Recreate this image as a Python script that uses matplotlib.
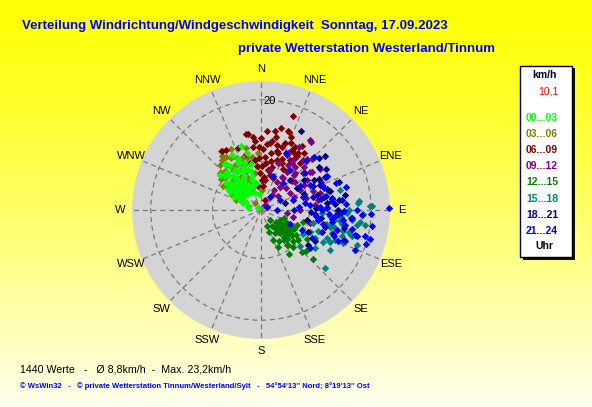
import numpy as np
import matplotlib
matplotlib.use("Agg")
import matplotlib.pyplot as plt
from matplotlib.patches import Rectangle

W, H = 592, 407
R_MAX = 23.4

# direction labels (clockwise from N)
DIR_LABELS = ["N", "NNE", "NE", "ENE", "E", "ESE", "SE", "SSE",
              "S", "SSW", "SW", "WSW", "W", "WNW", "NW", "NNW"]

# hour groups: label, colour
GROUP_LABELS = ["00...03", "03...06", "06...09", "09...12",
                "12...15", "15...18", "18...21", "21...24"]
GROUP_COLORS = ["#00ff00", "#808000", "#800000", "#800080",
                "#008000", "#008080", "#000080", "#0000ff"]

# wind direction (deg) / speed (km/h)
DIR_00 = [343, 332, 346, 316, 311, 327, 334, 342, 343, 340, 285, 302, 323, 305, 296, 318,
          320, 330, 312, 300, 335, 325, 308, 338, 315, 328, 298, 348, 310, 322, 330, 318,
          345, 290, 303, 336, 350, 326, 314, 306, 332, 320, 340, 352, 295,
          315, 322, 310, 328, 318, 305, 333, 300, 325, 313, 338, 320, 308, 328, 345]
SPD_00 = [12.2, 11.3, 10.6, 8.5, 7.4, 8.7, 9.4, 7.6, 5.7, 3.2, 2.4, 0.6, 5.3, 5.8, 4.2, 9.3,
          7.0, 6.5, 6.2, 5.0, 7.8, 9.8, 8.0, 4.5, 4.8, 3.6, 3.0, 8.5, 9.8, 10.6, 8.1, 6.9,
          6.4, 3.5, 7.1, 10.2, 5.0, 4.5, 9.0, 6.6, 5.2, 8.0, 9.0, 3.0, 5.5,
          6.0, 7.5, 7.0, 8.5, 4.0, 4.0, 6.8, 6.5, 6.2, 5.3, 8.3, 5.8, 5.0, 5.6, 7.3]

DIR_03 = [326, 324, 334, 323, 317, 312, 302, 306, 317, 305, 316, 292, 313, 337, 338, 351,
          345, 350, 357, 339, 332, 356, 318, 2, 320, 310, 328, 335, 315, 325, 300, 340,
          330, 346, 308, 322, 318, 330, 312, 320, 327, 335, 340, 303, 297, 325, 342]
SPD_03 = [12.9, 12.1, 12.3, 10.3, 9.6, 10.0, 8.1, 7.3, 7.4, 5.8, 5.9, 4.8, 4.0, 4.3, 6.2, 6.8,
          9.7, 9.8, 10.3, 8.8, 8.2, 7.9, 1.6, 3.6, 6.5, 6.8, 7.0, 5.5, 8.6, 9.0, 4.4, 7.5,
          10.8, 11.5, 9.2, 11.5, 11.0, 9.5, 8.8, 8.0, 11.5, 10.5, 10.0, 6.5, 6.0, 5.0, 5.5]

DIR_06 = [19, 14, 4, 354, 349, 19, 22, 20, 9, 14, 18, 27, 33, 33, 37, 330, 326, 350, 358,
          353, 8, 17, 4, 1, 10, 8, 21, 24, 353, 22, 60, 347, 353, 358, 6, 20, 24, 33, 34,
          40, 30, 12, 2, 15, 5, 355, 28, 10, 345, 0,
          5, 12, 25, 15, 358, 6, 18, 28, 355, 10, 340, 2, 15, 30, 22]
SPD_06 = [18.1, 15.3, 14.4, 13.4, 14.1, 15.1, 14.3, 12.9, 12.6, 12.2, 12.1, 12.3, 12.3, 11.3,
          12.9, 12.6, 12.8, 14.0, 11.5, 11.6, 12.2, 10.8, 9.7, 7.9, 7.4, 5.5, 6.2, 9.3, 4.3,
          2.0, 1.2, 8.7, 9.2, 6.7, 4.3, 15.0, 13.3, 13.8, 11.8, 11.1, 10.5, 9.0, 11.0, 8.0,
          6.0, 8.0, 8.5, 10.5, 10.5, 13.0,
          12.0, 13.5, 11.0, 11.0, 9.5, 8.5, 9.5, 13.0, 12.5, 14.5, 12.0, 5.5, 6.5, 12.0, 10.0]

DIR_09 = [36, 31, 40, 33, 31, 34, 43, 32, 29, 32, 52, 47, 52, 63, 13, 36, 39, 35, 53, 49,
          43, 33, 57, 68, 85, 90, 102, 97, 105, 74, 45, 25, 60, 40, 20, 75, 55,
          45, 38, 50, 60, 70, 42, 48, 35, 80, 65]
SPD_09 = [15.3, 13.4, 11.9, 10.8, 9.6, 8.4, 8.7, 7.1, 5.9, 4.3, 4.0, 7.6, 11.3, 8.0, 7.5, 3.4,
          1.2, 15.4, 11.5, 10.2, 9.1, 10.2, 9.9, 6.4, 9.9, 7.1, 6.0, 4.7, 9.2, 11.1, 13.0,
          11.5, 6.0, 5.5, 9.0, 8.5, 13.0,
          11.0, 10.0, 8.0, 9.0, 10.0, 12.5, 6.0, 7.0, 10.5, 12.0]

DIR_12 = [124, 161, 143, 158, 143, 142, 139, 136, 133, 129, 118, 113, 106, 128, 138, 122,
          129, 144, 149, 130, 135, 125, 140, 120, 150, 115, 132, 127, 145, 155, 134, 138,
          126, 118, 110, 148, 132, 160,
          128, 133, 124, 137, 130, 125, 140, 120, 135, 142, 131, 127]
SPD_12 = [4.9, 4.2, 4.2, 5.9, 6.8, 8.1, 8.9, 10.6, 12.9, 7.2, 3.9, 7.0, 8.0, 5.9, 2.4, 9.8,
          8.7, 7.9, 4.9, 5.0, 6.0, 6.5, 5.5, 5.5, 6.5, 5.0, 4.0, 3.5, 3.5, 7.5, 8.0, 7.0,
          7.8, 6.2, 4.5, 9.5, 11.0, 3.0,
          6.0, 5.5, 5.8, 6.4, 7.0, 4.5, 6.5, 7.0, 4.8, 5.0, 6.6, 5.3]

DIR_15 = [74, 76, 85, 88, 92, 92, 98, 98, 104, 104, 108, 112, 115, 113, 114, 119, 133, 132,
          104, 99, 97, 87, 106, 96, 104, 91, 93, 86, 88, 105, 103, 117, 110, 95, 120, 100,
          100, 108, 95, 112, 118, 102, 90, 110, 98, 125]
SPD_15 = [12.8, 14.8, 17.8, 19.8, 18.6, 15.6, 14.5, 13.3, 15.4, 16.4, 15.5, 14.5, 13.8, 13.0,
          9.7, 8.8, 9.7, 15.6, 12.9, 17.6, 18.1, 12.0, 17.2, 16.6, 9.8, 13.8, 11.0, 17.7,
          20.1, 16.7, 13.5, 12.7, 11.0, 12.5, 14.5, 10.5,
          15.0, 13.5, 14.5, 16.0, 11.0, 12.0, 16.0, 18.5, 19.0, 12.0]

DIR_18 = [27, 48, 50, 53, 63, 60, 67, 75, 81, 84, 94, 102, 108, 120, 127, 78, 83, 59, 44,
          69, 74, 102, 45, 70, 88, 95, 115, 55, 65, 90,
          72, 85, 80, 62, 98, 105, 92, 58, 75, 110]
SPD_18 = [16.0, 14.2, 15.1, 13.1, 13.1, 11.0, 11.7, 13.0, 13.0, 12.0, 13.8, 15.3, 13.8, 11.4,
          10.7, 11.6, 14.2, 7.6, 7.6, 8.3, 4.5, 8.5, 13.7, 15.0, 10.0, 16.5, 9.5, 9.5, 10.5,
          14.0,
          12.5, 13.5, 15.5, 12.0, 11.0, 12.0, 9.0, 14.0, 10.5, 16.0]

DIR_21 = [63, 71, 83, 83, 90, 89, 93, 104, 105, 105, 110, 113, 100, 97, 87, 94, 90, 62, 34,
          59, 63, 116, 128, 105, 95, 91, 102, 119, 110, 93, 76, 40, 20, 60, 90, 115, 73, 81,
          43, 24, 36, 63, 45, 50, 70, 80, 100, 85, 98, 108, 75,
          80, 88, 95, 100, 92, 86, 78, 68, 103, 97, 110, 84, 73, 105, 92, 112, 90, 96]
SPD_21 = [13.4, 12.0, 12.9, 14.8, 17.4, 23.2, 18.3, 19.5, 20.5, 17.7, 16.2, 18.6, 15.5, 12.9,
          10.7, 9.8, 5.9, 3.9, 2.9, 8.3, 10.0, 8.2, 11.3, 14.2, 16.3, 15.0, 16.9, 10.6, 11.7,
          12.3, 9.8, 6.3, 6.5, 1.2, 2.9, 5.8, 6.1, 8.1, 12.1, 11.3, 9.0, 13.3, 13.7, 10.5,
          14.5, 11.0, 10.5, 7.0, 20.3, 20.0, 16.0,
          13.0, 12.0, 13.5, 13.0, 14.5, 15.5, 12.0, 12.0, 11.5, 15.0, 14.0, 9.0, 8.0, 18.0,
          20.0, 15.0, 11.0, 10.0]

GROUP_DIRS = [DIR_00, DIR_03, DIR_06, DIR_09, DIR_12, DIR_15, DIR_18, DIR_21]
GROUP_SPDS = [SPD_00, SPD_03, SPD_06, SPD_09, SPD_12, SPD_15, SPD_18, SPD_21]

MEAN_SPEED = 8.8
CURRENT = "10,1"


def px(x, y):
    # pixel (from top-left) -> figure fraction
    return x / W, 1 - y / H


fig = plt.figure(figsize=(W / 100, H / 100), dpi=100)

# yellow background gradient
bg = fig.add_axes([0, 0, 1, 1], zorder=0)
grad = np.linspace(0, 1, 256)[:, None]
rgb = np.ones((256, 1, 3))
rgb[:, 0, 2] = 0.02 + 0.92 * grad[:, 0] ** 1.3
bg.imshow(rgb, aspect="auto", extent=[0, 1, 0, 1])
bg.set_axis_off()

# polar plot, centre (261, 210) px, radius 129 px
cx, cy, rad = 261, 210, 129
ax = fig.add_axes([(cx - rad) / W, (H - cy - rad) / H, 2 * rad / W, 2 * rad / H],
                  projection="polar", zorder=1)
ax.set_theta_zero_location("N")
ax.set_theta_direction(-1)
ax.set_facecolor("#d4d4d4")
ax.spines["polar"].set_visible(False)
ax.set_ylim(0, R_MAX)
ax.set_xticks(np.deg2rad(np.arange(0, 360, 22.5)))
ax.set_xticklabels([])
ax.set_yticks([MEAN_SPEED, 20])
ax.set_yticklabels([])
ax.grid(True, color="#7a7a7a", linestyle=(0, (4, 3)), linewidth=0.9)
ax.tick_params(length=0)

for i, lab in enumerate(DIR_LABELS):
    ax.text(np.deg2rad(i * 22.5), R_MAX * 1.09, lab, ha="center", va="center",
            fontsize=8, family="Liberation Sans", clip_on=False)
ax.text(np.deg2rad(4.5), 19.9, "20", ha="center", va="center", fontsize=8,
        family="Liberation Sans")

# night points (00-03) sit on top of the 03-06 ones in the original
zorders = [4, 3, 3, 3, 3, 3, 3, 3]
for dirs, spds, col, z in zip(GROUP_DIRS, GROUP_SPDS, GROUP_COLORS, zorders):
    ax.scatter(np.deg2rad(dirs), spds, marker="D", s=14, color=col, linewidths=0,
               zorder=z, clip_on=False)

# titles
fig.text(*px(22, 26), "Verteilung Windrichtung/Windgeschwindigkeit  Sonntag, 17.09.2023",
         color="#0000ff", fontsize=9.5, fontweight="bold", family="Liberation Sans",
         ha="left", va="center")
fig.text(*px(238, 49), "private Wetterstation Westerland/Tinnum",
         color="#0000ff", fontsize=9.5, fontweight="bold", family="Liberation Sans",
         ha="left", va="center")

# bottom lines
fig.text(*px(20, 369), "1440 Werte   -   \u00d8 8,8km/h  -  Max. 23,2km/h",
         color="black", fontsize=7.7, family="Liberation Sans", ha="left", va="center")
fig.text(*px(20, 386),
         "\u00a9 WsWin32   -   \u00a9 private Wetterstation Tinnum/Westerland/Sylt   -   "
         "54\u00b054'13'' Nord; 8\u00b019'13'' Ost",
         color="#0000ff", fontsize=5.5, fontweight="bold", family="Liberation Sans",
         ha="left", va="center")

# legend box with shadow
x0, y0 = px(523, 260)
fig.patches.append(Rectangle((x0, y0), 52 / W, 192 / H, transform=fig.transFigure,
                             facecolor="#101010", edgecolor="none", zorder=2))
x0, y0 = px(520, 257)
fig.patches.append(Rectangle((x0, y0), 52 / W, 191 / H, transform=fig.transFigure,
                             facecolor="white", edgecolor="black", linewidth=1, zorder=3))

fig.text(*px(544, 75), "km/h", fontsize=7.5, fontweight="bold", family="Liberation Sans",
         ha="center", va="center", zorder=4)
fig.text(*px(559, 92), CURRENT, fontsize=7.5, color="red", family="Liberation Sans",
         ha="right", va="center", zorder=4)
for i, (lab, col) in enumerate(zip(GROUP_LABELS, GROUP_COLORS)):
    fig.text(*px(542, 118 + 16.1 * i), lab, fontsize=7.5, fontweight="bold", color=col,
             family="Liberation Sans", ha="center", va="center", zorder=4)
fig.text(*px(544, 246), "Uhr", fontsize=7.5, fontweight="bold", family="Liberation Sans",
         ha="center", va="center", zorder=4)

fig.savefig("out.png", dpi=100)
